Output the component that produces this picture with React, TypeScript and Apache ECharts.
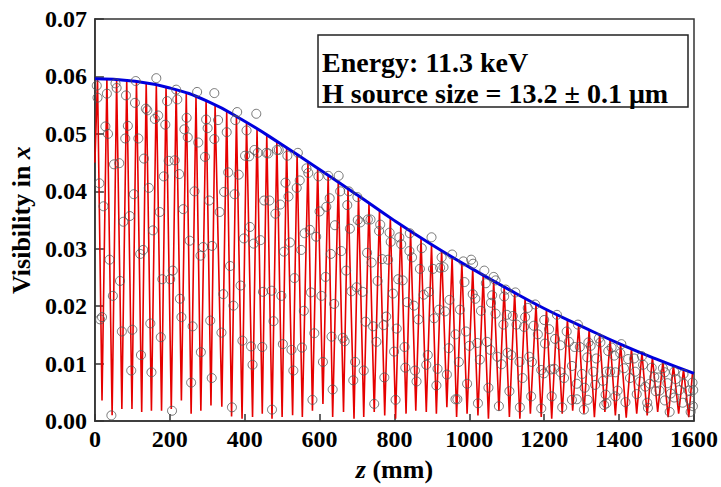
import React, { useEffect, useRef } from "react";
import * as echarts from "echarts";

// Gaussian envelope (blue)
const envZ = [0, 100, 200, 300, 400, 500, 600, 700, 800, 900, 1000, 1100, 1200, 1300, 1400, 1500, 1600];
const envV = [0.0596, 0.0592, 0.058, 0.0557, 0.0522, 0.0481, 0.0438, 0.0394, 0.0349, 0.0307, 0.0268, 0.0231, 0.0196, 0.0165, 0.0135, 0.0108, 0.0083];

// Red fit curve: peaks and troughs
const peakZ = [7, 32, 58, 85, 111, 137, 164, 190, 217, 244, 270, 297, 321, 352, 378, 405, 433, 459, 486, 512, 540, 569, 595, 623, 650, 676, 704, 732, 760, 789, 817, 843, 871, 899, 926, 954, 980, 1009, 1037, 1065, 1093, 1121, 1149, 1178, 1206, 1234, 1262, 1292, 1320, 1348, 1376, 1404, 1433, 1461, 1489, 1517, 1545, 1572, 1596];
const peakV = [0.0596, 0.0595, 0.0594, 0.0593, 0.0591, 0.0588, 0.0584, 0.0581, 0.0576, 0.057, 0.0564, 0.0558, 0.055, 0.0539, 0.053, 0.052, 0.0508, 0.0498, 0.0487, 0.0476, 0.0464, 0.0452, 0.044, 0.0428, 0.0416, 0.0405, 0.0392, 0.038, 0.0367, 0.0354, 0.0342, 0.0331, 0.0319, 0.0307, 0.0297, 0.0286, 0.0276, 0.0265, 0.0254, 0.0244, 0.0233, 0.0224, 0.0214, 0.0204, 0.0194, 0.0185, 0.0177, 0.0167, 0.0159, 0.0151, 0.0142, 0.0134, 0.0126, 0.0119, 0.0111, 0.0104, 0.0097, 0.009, 0.0084];
const troughZ = [19, 46, 72, 99, 125, 151, 178, 204, 231, 257, 283, 310, 339, 365, 393, 421, 447, 473, 500, 528, 554, 581, 609, 635, 664, 692, 718, 746, 774, 803, 831, 857, 885, 912, 940, 966, 994, 1023, 1051, 1079, 1107, 1135, 1163, 1192, 1220, 1248, 1276, 1306, 1334, 1362, 1390, 1419, 1447, 1475, 1503, 1531, 1559, 1586];
const troughV = [0.0036, 0.001, 0.0021, 0.0021, 0.0016, 0.0018, 0.0018, 0.0021, 0.0036, 0.0013, 0.0018, 0.0027, 0.0025, 0.0008, 0.0004, 0.0007, 0.0013, 0.0004, 0.0007, 0.001, 0.0007, 0.0018, 0.003, 0.0007, 0.0016, 0.0004, 0.0007, 0.0016, 0.001, 0.0004, 0.0013, 0.0018, 0.0016, 0.0013, 0.0024, 0.0007, 0.0013, 0.001, 0.0004, 0.0018, 0.0007, 0.0004, 0.0013, 0.0007, 0.0004, 0.0013, 0.0018, 0.0013, 0.0007, 0.0016, 0.001, 0.0006, 0.0013, 0.001, 0.0016, 0.0007, 0.0013, 0.0007];
const redStart: [number, number] = [0, 0.045];

// Measured points (open circles)
const obsZ = [
  5, 7, 55, 58, 32, 83, 109, 107, 164, 136, 140, 160, 169, 193, 188, 217, 220, 273, 245, 239, 248, 297, 301, 319, 319, 276, 294, 28, 35, 81, 88, 116, 51, 65, 131, 197, 213, 225, 184, 12, 23, 104, 144, 266, 305, 76, 93, 173, 155, 236, 253, 289, 282, 313, 39, 121, 129, 208, 180, 201, 67, 48, 227, 14, 19, 231, 308, 72, 100, 148, 176, 261, 123, 283, 97, 151, 257, 312, 44, 206,
  380, 431, 329, 375, 352, 405, 401, 412, 426, 435, 458, 463, 486, 491, 514, 542, 570, 597, 623, 565, 356, 384, 345, 373, 333, 452, 466, 509, 517, 547, 539, 495, 482, 600, 618, 627, 414, 398, 424, 442, 505, 521, 560, 574, 591, 551, 630, 641, 361, 389, 343, 370, 449, 472, 498, 533, 577, 558, 605, 616, 639, 477, 338, 394, 417, 447, 502, 525, 553, 586, 632, 421, 530, 609, 366, 473, 581, 635,
  651, 655, 678, 674, 701, 702, 709, 681, 729, 736, 762, 759, 787, 790, 813, 818, 841, 840, 847, 873, 899, 903, 926, 922, 931, 954, 658, 671, 727, 739, 767, 783, 868, 755, 810, 822, 796, 685, 699, 715, 834, 852, 864, 878, 892, 906, 919, 935, 947, 963, 723, 743, 752, 771, 778, 806, 827, 799, 662, 667, 695, 718, 690, 773, 829, 855, 859, 885, 889, 915, 940, 945, 912, 746, 803, 963,
  1005, 1010, 984, 1040, 1065, 1070, 987, 1044, 1009, 1016, 1031, 975, 1058, 1061, 1097, 1093, 1123, 1070, 1100, 1116, 1091, 1126, 1146, 1149, 1156, 1176, 1172, 1183, 1200, 1213, 1202, 1234, 1229, 1243, 1260, 1266, 1281, 991, 1000, 1021, 1047, 1056, 1102, 1112, 1075, 1086, 1134, 1160, 1167, 1192, 1199, 1218, 1227, 1244, 1253, 1274, 1287, 972, 1028, 1142, 994, 1051, 1107, 1165, 1220, 1274, 968, 1023, 1079, 1135, 1192, 1248,
  1290, 1295, 1318, 1324, 1346, 1350, 1315, 1339, 1301, 1371, 1380, 1387, 1406, 1403, 1424, 1440, 1461, 1464, 1487, 1494, 1517, 1522, 1547, 1551, 1572, 1573, 1596, 1586, 1598, 1331, 1308, 1336, 1357, 1366, 1376, 1390, 1396, 1413, 1429, 1443, 1456, 1470, 1482, 1505, 1508, 1529, 1538, 1561, 1287, 1316, 1364, 1366, 1390, 1417, 1447, 1475, 1498, 1522, 1547, 1570, 1589, 1306, 1360, 1477, 1535, 1591, 1597,
];
const obsV = [
  0.0584, 0.0563, 0.0588, 0.058, 0.057, 0.0567, 0.0592, 0.0554, 0.0597, 0.0544, 0.0541, 0.0526, 0.0532, 0.0557, 0.0516, 0.0577, 0.056, 0.0573, 0.0528, 0.0508, 0.0494, 0.0525, 0.051, 0.0571, 0.0491, 0.0485, 0.046, 0.0513, 0.05, 0.0492, 0.0514, 0.0492, 0.0447, 0.0449, 0.0457, 0.0453, 0.0454, 0.043, 0.0426, 0.0414, 0.0374, 0.0395, 0.0406, 0.04, 0.0384, 0.0347, 0.0357, 0.0364, 0.0332, 0.0369, 0.0314, 0.0303, 0.0288, 0.0305, 0.0281, 0.0291, 0.0298, 0.0262, 0.0247, 0.0247, 0.0244, 0.0218, 0.0213, 0.0177, 0.0181, 0.0181, 0.0175, 0.0156, 0.0159, 0.017, 0.0146, 0.0165, 0.0115, 0.012, 0.0088, 0.0085, 0.0067, 0.0075, 0.001, 0.0018,
  0.0538, 0.0535, 0.0524, 0.0524, 0.0503, 0.0506, 0.0462, 0.0461, 0.0472, 0.0467, 0.0467, 0.0466, 0.0472, 0.0472, 0.0462, 0.0467, 0.0432, 0.0426, 0.0427, 0.044, 0.0433, 0.0429, 0.0399, 0.0395, 0.0364, 0.0384, 0.0384, 0.0415, 0.0391, 0.0419, 0.0406, 0.0377, 0.0361, 0.0365, 0.0373, 0.0388, 0.0338, 0.0318, 0.0309, 0.0315, 0.0295, 0.0311, 0.0327, 0.0333, 0.0321, 0.0298, 0.0291, 0.0341, 0.027, 0.0236, 0.0221, 0.0201, 0.0225, 0.0227, 0.0218, 0.0249, 0.0224, 0.0192, 0.0218, 0.0251, 0.0204, 0.0174, 0.0154, 0.014, 0.013, 0.0129, 0.0134, 0.0124, 0.0128, 0.0153, 0.0147, 0.0098, 0.0088, 0.0103, 0.0024, 0.002, 0.0037, 0.0055,
  0.0427, 0.04, 0.04, 0.0376, 0.039, 0.035, 0.0346, 0.0335, 0.0351, 0.0351, 0.0342, 0.0331, 0.0328, 0.0312, 0.032, 0.0308, 0.0327, 0.0296, 0.0285, 0.0301, 0.032, 0.0265, 0.0285, 0.0267, 0.0268, 0.029, 0.0296, 0.0262, 0.0293, 0.0276, 0.0282, 0.0281, 0.0265, 0.0244, 0.0247, 0.0245, 0.0222, 0.0226, 0.0233, 0.0225, 0.0207, 0.0201, 0.0177, 0.022, 0.0225, 0.0179, 0.0194, 0.0191, 0.0211, 0.0151, 0.0173, 0.0165, 0.0138, 0.0167, 0.0182, 0.0161, 0.0129, 0.0121, 0.0145, 0.0139, 0.0103, 0.0088, 0.0071, 0.0076, 0.0093, 0.0088, 0.0069, 0.0098, 0.0115, 0.0091, 0.0081, 0.0127, 0.0062, 0.003, 0.0037, 0.0038,
  0.0281, 0.0274, 0.0278, 0.0262, 0.0251, 0.0245, 0.0242, 0.024, 0.0221, 0.0213, 0.0192, 0.0194, 0.0206, 0.0219, 0.0229, 0.0217, 0.0224, 0.0187, 0.0185, 0.0183, 0.0168, 0.0168, 0.0164, 0.0181, 0.0197, 0.0203, 0.0166, 0.0151, 0.0176, 0.016, 0.0135, 0.0185, 0.0143, 0.0132, 0.0156, 0.0138, 0.0129, 0.0156, 0.0131, 0.0136, 0.0138, 0.0124, 0.0119, 0.0115, 0.0112, 0.0099, 0.0103, 0.0112, 0.0103, 0.0089, 0.0083, 0.009, 0.0091, 0.0085, 0.0075, 0.0096, 0.0065, 0.0103, 0.0107, 0.0075, 0.0065, 0.0058, 0.0052, 0.0043, 0.0043, 0.0037, 0.0038, 0.0031, 0.0026, 0.0024, 0.0022, 0.0024,
  0.0168, 0.0129, 0.0137, 0.0131, 0.0144, 0.0137, 0.0111, 0.0109, 0.0082, 0.0122, 0.0128, 0.0114, 0.0134, 0.0118, 0.0108, 0.0109, 0.0113, 0.0098, 0.0093, 0.0077, 0.0092, 0.0085, 0.0086, 0.0073, 0.0082, 0.0065, 0.0067, 0.0053, 0.0054, 0.0086, 0.0058, 0.0063, 0.007, 0.0086, 0.0086, 0.0085, 0.0053, 0.0092, 0.0075, 0.0086, 0.0069, 0.006, 0.0065, 0.0076, 0.0053, 0.0066, 0.0048, 0.0054, 0.0038, 0.0037, 0.0046, 0.0031, 0.0043, 0.0033, 0.0047, 0.0032, 0.0052, 0.0036, 0.0041, 0.0032, 0.0037, 0.002, 0.0028, 0.0023, 0.0016, 0.0016, 0.0026,
];

const xTickLabels = ["0", "200", "400", "600", "800", "1000", "1200", "1400", "1600"];
const legendLines = ["Energy: 11.3 keV", "H source size = 13.2 \u00b1 0.1 \u03bcm"];

const FONT = "'Liberation Serif', 'Times New Roman', serif";

export default function App() {
  const ref = useRef<HTMLDivElement>(null);
  useEffect(() => {
    document.body.style.margin = "0";
    if (!ref.current) return;
    const chart = echarts.init(ref.current, undefined, { renderer: "svg" });

    const redData: [number, number][] = [redStart];
    for (let i = 0; i < peakZ.length; i++) {
      redData.push([peakZ[i], peakV[i]]);
      if (i < troughZ.length) redData.push([troughZ[i], troughV[i]]);
    }
    const envData = envZ.map((z, i) => [z, envV[i]]);
    const obsData = obsZ.map((z, i) => [z, obsV[i]]);

    const labelStyle = { fontFamily: FONT, fontWeight: "bold" as const, fontSize: 24, color: "#000" };

    chart.setOption({
      animation: false,
      grid: { left: 90, right: 25, top: 19, bottom: 63, show: true, borderColor: "#333", borderWidth: 1.5, backgroundColor: "transparent" },
      xAxis: {
        type: "value",
        min: 0,
        max: 1600,
        interval: 200,
        axisLine: { show: true, lineStyle: { color: "#333", width: 1.5 } },
        axisTick: { show: true, inside: true, length: 7, lineStyle: { color: "#333", width: 1.5 } },
        splitLine: { show: false },
        axisLabel: { ...labelStyle, margin: 6, formatter: (v: number) => xTickLabels[Math.round(v / 200)] ?? String(v) },
        name: "{i|z}{n| (mm)}",
        nameLocation: "middle",
        nameGap: 30,
        nameTextStyle: {
          rich: {
            i: { fontFamily: FONT, fontWeight: "bold", fontStyle: "italic", fontSize: 26, color: "#000" },
            n: { fontFamily: FONT, fontWeight: "bold", fontSize: 26, color: "#000" },
          },
        },
      },
      yAxis: {
        type: "value",
        min: 0,
        max: 0.07,
        interval: 0.01,
        axisLine: { show: true, lineStyle: { color: "#333", width: 1.5 } },
        axisTick: { show: true, inside: true, length: 9, lineStyle: { color: "#333", width: 1.5 } },
        splitLine: { show: false },
        axisLabel: { ...labelStyle, margin: 8, formatter: (v: number) => v.toFixed(2) },
        name: "{n|Visibility in }{i|x}",
        nameLocation: "middle",
        nameRotate: 90,
        nameGap: 56,
        nameTextStyle: {
          rich: {
            i: { fontFamily: FONT, fontWeight: "bold", fontStyle: "italic", fontSize: 26, color: "#000" },
            n: { fontFamily: FONT, fontWeight: "bold", fontSize: 26, color: "#000" },
          },
        },
      },
      graphic: [
        {
          type: "rect",
          shape: { x: 318, y: 35, width: 370, height: 72 },
          style: { fill: "#fff", stroke: "#222", lineWidth: 1.5 },
          z: 100,
        },
        {
          type: "text",
          x: 322,
          y: 62,
          style: { text: legendLines[0], font: `bold 28px ${FONT}`, fill: "#000", verticalAlign: "middle" },
          z: 101,
        },
        {
          type: "text",
          x: 322,
          y: 93,
          style: { text: legendLines[1], font: `bold 28px ${FONT}`, fill: "#000", verticalAlign: "middle" },
          z: 101,
        },
      ],
      series: [
        {
          type: "line",
          data: redData,
          symbol: "none",
          silent: true,
          lineStyle: { color: "#e60000", width: 1.6 },
          z: 1,
        },
        {
          type: "line",
          data: envData,
          smooth: true,
          symbol: "none",
          silent: true,
          lineStyle: { color: "#0000dd", width: 3 },
          z: 2,
        },
        {
          type: "scatter",
          data: obsData,
          symbol: "circle",
          symbolSize: 9,
          silent: true,
          itemStyle: { color: "rgba(0,0,0,0)", borderColor: "#555", borderWidth: 1 },
          z: 3,
        },
      ],
    });
    return () => chart.dispose();
  }, []);
  return <div ref={ref} style={{ width: 721, height: 487 }} />;
}
